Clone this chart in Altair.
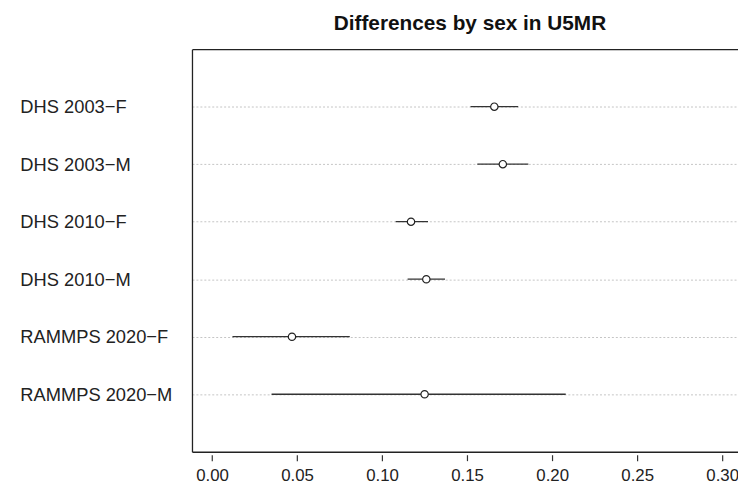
import altair as alt
import pandas as pd

labels = ["DHS 2003−F", "DHS 2003−M", "DHS 2010−F", "DHS 2010−M", "RAMMPS 2020−F", "RAMMPS 2020−M"]
estimate = [0.166, 0.171, 0.117, 0.126, 0.047, 0.125]
lower = [0.152, 0.156, 0.108, 0.115, 0.012, 0.035]
upper = [0.180, 0.186, 0.127, 0.137, 0.081, 0.208]
x_ticks = [0.00, 0.05, 0.10, 0.15, 0.20, 0.25, 0.30]
x_domain = [-0.0118, 0.3093]

df = pd.DataFrame({"label": labels, "est": estimate, "lo": lower, "hi": upper})

FONT = "Liberation Sans"
xs = alt.Scale(domain=x_domain, nice=False, zero=False)

y_enc = alt.Y(
    "label:N",
    sort=labels,
    scale=alt.Scale(type="point", padding=1),
    axis=alt.Axis(
        title=None, labelAlign="left", labelPadding=174, ticks=False, tickSize=0,
        domain=True, domainColor="#222", domainWidth=1.3,
        grid=True, gridColor="#c4c4c4", gridDash=[2, 2], gridWidth=1,
        labelFont=FONT, labelFontSize=18.5, labelColor="#222", labelBaseline="middle",
    ),
)

bars = alt.Chart(df).mark_rule(color="#333", strokeWidth=1.3).encode(
    x=alt.X("lo:Q", scale=xs, axis=alt.Axis(orient="bottom", domain=True, ticks=False,
                                           labels=False, grid=False, title=None,
                                           domainColor="#222", domainWidth=1.3)),
    x2="hi:Q",
    y=y_enc,
)

points = alt.Chart(df).mark_point(shape="circle", size=55, filled=True, fill="white",
                                  stroke="#222", strokeWidth=1.2, opacity=1).encode(
    x=alt.X("est:Q", scale=xs, axis=alt.Axis(orient="bottom", domain=False, values=x_ticks,
                                            format=".2f", offset=3, tickSize=6, tickColor="#333",
                                            tickWidth=1.2, labelPadding=7, grid=False, title=None,
                                            labelFont=FONT, labelFontSize=17, labelColor="#222")),
    y=y_enc,
)

top_frame = alt.Chart(df).mark_point(opacity=0).encode(
    x=alt.X("est:Q", scale=xs, axis=alt.Axis(orient="top", domain=True, ticks=False,
                                            labels=False, grid=False, title=None,
                                            domainColor="#222", domainWidth=1.3)),
    y=y_enc,
)

chart = alt.layer(bars, points, top_frame).resolve_scale(x="independent").resolve_axis(
    x="independent"
).properties(
    width=552,
    height=407,
    title=alt.Title("Differences by sex in U5MR", font=FONT, fontSize=21, fontWeight="bold",
                    anchor="middle", dx=5, dy=18, offset=16, baseline="alphabetic", color="#111"),
    padding={"left": 186, "top": 39, "right": 0, "bottom": 31},
    autosize="none",
).configure_view(stroke=None)

chart.save("out.html", embed_options={"renderer": "svg", "actions": False})
